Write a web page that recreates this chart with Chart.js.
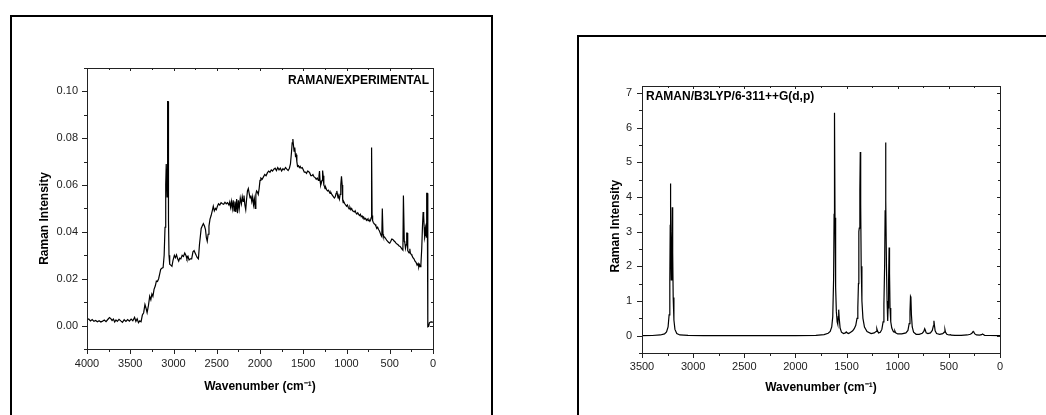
<!DOCTYPE html>
<html>
<head>
<meta charset="utf-8">
<title>Raman spectra</title>
<script src="https://cdn.jsdelivr.net/npm/chart.js@4.4.1/dist/chart.umd.min.js"></script>
<style>
  html, body { margin: 0; padding: 0; background: #fff; }
  body { width: 1046px; height: 415px; position: relative; overflow: hidden; }
  .panel { position: absolute; border: 2px solid #000; border-bottom: none; box-sizing: border-box; }
  #boxLeft { left: 10px; top: 15px; width: 483px; height: 420px; }
  #boxRight { left: 577px; top: 35px; width: 500px; height: 400px; }
  canvas { position: absolute; top: 0; }
  #expChart { left: 0; }
  #calcChart { left: 523px; }
</style>
</head>
<body>
<div class="panel" id="boxLeft"></div>
<div class="panel" id="boxRight"></div>
<canvas id="expChart" width="520" height="415"></canvas>
<canvas id="calcChart" width="523" height="415"></canvas>
<script>
// experimental spectrum (cm-1 / intensity)
const expWavenumber = [
  4000, 3980, 3960, 3940, 3920, 3900, 3880, 3860, 3840, 3820, 3800, 3780, 3760, 3740, 3725, 3710, 3695, 3680, 3665, 3650,
  3630, 3610, 3590, 3570, 3550, 3530, 3510, 3490, 3470, 3450, 3435, 3420, 3405, 3390, 3375, 3360, 3345, 3330, 3318, 3305,
  3290, 3275, 3262, 3250, 3238, 3225, 3210, 3198, 3185, 3172, 3160, 3148, 3135, 3120, 3108, 3098, 3090, 3084, 3078, 3074,
  3070, 3066, 3062, 3058, 3052, 3044, 3032, 3018, 3005, 2990, 2978, 2965, 2952, 2940, 2928, 2915, 2900, 2885, 2870, 2855,
  2845, 2832, 2820, 2805, 2790, 2775, 2762, 2750, 2738, 2725, 2712, 2700, 2690, 2680, 2668, 2655, 2642, 2630, 2620, 2610,
  2600, 2590, 2578, 2565, 2552, 2540, 2528, 2515, 2505, 2492, 2480, 2465, 2450, 2435, 2420, 2405, 2390, 2375, 2360, 2350,
  2340, 2330, 2320, 2310, 2300, 2290, 2280, 2270, 2260, 2250, 2240, 2228, 2215, 2205, 2195, 2185, 2175, 2165, 2155, 2145,
  2135, 2125, 2115, 2105, 2095, 2085, 2075, 2065, 2055, 2048, 2040, 2030, 2020, 2010, 2000, 1990, 1975, 1960, 1945, 1930,
  1915, 1900, 1885, 1870, 1855, 1840, 1825, 1810, 1795, 1780, 1765, 1750, 1735, 1720, 1705, 1690, 1675, 1660, 1648, 1636,
  1628, 1620, 1613, 1606, 1598, 1590, 1582, 1574, 1566, 1555, 1545, 1535, 1525, 1512, 1500, 1488, 1475, 1462, 1450, 1438,
  1425, 1412, 1400, 1388, 1375, 1362, 1350, 1338, 1325, 1318, 1312, 1306, 1298, 1290, 1282, 1276, 1270, 1262, 1255, 1248,
  1240, 1230, 1220, 1210, 1200, 1190, 1180, 1170, 1160, 1150, 1140, 1130, 1120, 1112, 1105, 1098, 1090, 1082, 1074, 1066,
  1058, 1050, 1044, 1038, 1030, 1020, 1010, 1000, 990, 980, 970, 960, 950, 940, 930, 920, 910, 900, 890, 880,
  870, 860, 850, 840, 830, 820, 810, 800, 790, 780, 770, 760, 750, 740, 730, 722, 716, 712, 708, 704,
  698, 690, 680, 670, 660, 650, 640, 630, 620, 610, 600, 592, 586, 582, 578, 572, 560, 548, 536, 524,
  512, 500, 488, 476, 464, 452, 440, 428, 416, 404, 392, 380, 368, 356, 348, 342, 336, 332, 326, 318,
  310, 304, 298, 292, 284, 276, 268, 262, 254, 244, 232, 220, 208, 196, 184, 172, 164, 156, 148, 140,
  130, 122, 114, 108, 102, 96, 90, 84, 80, 76, 70, 66, 62, 58, 50, 42, 30, 18, 8, 0
];
const expIntensity = [
  0.0025, 0.0028, 0.0020, 0.0026, 0.0018, 0.0022, 0.0016, 0.0021, 0.0015, 0.0019, 0.0024, 0.0017, 0.0026, 0.0034, 0.0030, 0.0022, 0.0028, 0.0015, 0.0024, 0.0018,
  0.0027, 0.0020, 0.0014, 0.0025, 0.0018, 0.0026, 0.0019, 0.0028, 0.0021, 0.0035, 0.0018, 0.0029, 0.0012, 0.0020, 0.0016, 0.0045, 0.0055, 0.0090, 0.0075, 0.0055,
  0.0085, 0.0125, 0.0110, 0.0135, 0.0125, 0.0155, 0.0170, 0.0190, 0.0188, 0.0200, 0.0220, 0.0240, 0.0245, 0.0248, 0.0300, 0.0420, 0.0600, 0.0690, 0.0690, 0.0550,
  0.0690, 0.0957, 0.0957, 0.0450, 0.0300, 0.0262, 0.0258, 0.0253, 0.0280, 0.0300, 0.0290, 0.0302, 0.0285, 0.0275, 0.0288, 0.0285, 0.0300, 0.0295, 0.0310, 0.0298,
  0.0285, 0.0295, 0.0280, 0.0285, 0.0285, 0.0315, 0.0320, 0.0310, 0.0300, 0.0290, 0.0285, 0.0345, 0.0380, 0.0415, 0.0425, 0.0435, 0.0425, 0.0410, 0.0375, 0.0360,
  0.0390, 0.0425, 0.0455, 0.0470, 0.0490, 0.0510, 0.0490, 0.0500, 0.0495, 0.0510, 0.0520, 0.0515, 0.0525, 0.0520, 0.0518, 0.0527, 0.0520, 0.0525, 0.0515, 0.0528,
  0.0505, 0.0530, 0.0500, 0.0535, 0.0490, 0.0530, 0.0485, 0.0540, 0.0480, 0.0535, 0.0500, 0.0545, 0.0520, 0.0550, 0.0530, 0.0555, 0.0515, 0.0495, 0.0540, 0.0575,
  0.0585, 0.0565, 0.0545, 0.0555, 0.0530, 0.0550, 0.0515, 0.0540, 0.0500, 0.0560, 0.0575, 0.0570, 0.0560, 0.0585, 0.0620, 0.0630, 0.0625, 0.0635, 0.0645, 0.0640,
  0.0652, 0.0660, 0.0655, 0.0665, 0.0660, 0.0668, 0.0672, 0.0662, 0.0675, 0.0665, 0.0672, 0.0660, 0.0670, 0.0665, 0.0675, 0.0668, 0.0662, 0.0672, 0.0690, 0.0740,
  0.0780, 0.0797, 0.0770, 0.0745, 0.0760, 0.0725, 0.0730, 0.0700, 0.0680, 0.0683, 0.0675, 0.0680, 0.0672, 0.0675, 0.0665, 0.0655, 0.0655, 0.0650, 0.0660, 0.0658,
  0.0652, 0.0640, 0.0640, 0.0645, 0.0635, 0.0632, 0.0625, 0.0630, 0.0620, 0.0640, 0.0660, 0.0620, 0.0600, 0.0610, 0.0620, 0.0662, 0.0640, 0.0600, 0.0595, 0.0585,
  0.0590, 0.0580, 0.0575, 0.0578, 0.0572, 0.0565, 0.0568, 0.0560, 0.0555, 0.0550, 0.0545, 0.0550, 0.0565, 0.0575, 0.0560, 0.0545, 0.0550, 0.0540, 0.0560, 0.0600,
  0.0637, 0.0600, 0.0535, 0.0525, 0.0528, 0.0520, 0.0515, 0.0510, 0.0515, 0.0505, 0.0498, 0.0505, 0.0495, 0.0500, 0.0490, 0.0488, 0.0485, 0.0490, 0.0480, 0.0478,
  0.0482, 0.0475, 0.0470, 0.0475, 0.0465, 0.0468, 0.0460, 0.0462, 0.0455, 0.0458, 0.0450, 0.0455, 0.0448, 0.0452, 0.0445, 0.0450, 0.0460, 0.0760, 0.0760, 0.0470,
  0.0448, 0.0440, 0.0435, 0.0432, 0.0425, 0.0415, 0.0420, 0.0410, 0.0405, 0.0395, 0.0385, 0.0380, 0.0500, 0.0500, 0.0390, 0.0380, 0.0378, 0.0372, 0.0365, 0.0360,
  0.0355, 0.0352, 0.0360, 0.0370, 0.0368, 0.0362, 0.0358, 0.0352, 0.0348, 0.0345, 0.0340, 0.0338, 0.0332, 0.0325, 0.0322, 0.0555, 0.0555, 0.0360, 0.0355, 0.0330,
  0.0345, 0.0395, 0.0395, 0.0320, 0.0315, 0.0310, 0.0328, 0.0310, 0.0305, 0.0300, 0.0290, 0.0285, 0.0275, 0.0270, 0.0258, 0.0265, 0.0250, 0.0260, 0.0252, 0.0260,
  0.0330, 0.0420, 0.0485, 0.0470, 0.0420, 0.0375, 0.0385, 0.0425, 0.0430, 0.0375, 0.0565, 0.0565, 0.0010, -0.0005, -0.0003, 0.0012, 0.0015, 0.0016, 0.0015, 0.0014
];

// B3LYP/6-311++G(d,p) computed spectrum
const calcWavenumber = [
  3500, 3400, 3320, 3280, 3260, 3245, 3235, 3228, 3224, 3222, 3219, 3214, 3208, 3204, 3200, 3195, 3188, 3178, 3160, 3130,
  3050, 2900, 2000, 1800, 1720, 1680, 1660, 1645, 1635, 1627, 1622, 1618, 1613, 1607, 1600, 1592, 1586, 1581, 1577, 1572,
  1563, 1550, 1530, 1512, 1503, 1494, 1480, 1460, 1440, 1425, 1410, 1398, 1390, 1384, 1380, 1376, 1370, 1366, 1362, 1357,
  1350, 1340, 1325, 1300, 1260, 1230, 1212, 1204, 1198, 1188, 1170, 1155, 1143, 1135, 1128, 1123, 1119, 1115, 1110, 1104,
  1098, 1094, 1089, 1084, 1080, 1075, 1068, 1058, 1045, 1036, 1028, 1020, 1000, 960, 920, 900, 888, 880, 875, 871,
  866, 858, 845, 820, 790, 760, 745, 736, 730, 722, 705, 680, 662, 651, 646, 641, 634, 620, 590, 560,
  545, 538, 533, 520, 500, 485, 478, 440, 380, 320, 290, 275, 262, 256, 246, 230, 200, 180, 170, 163,
  150, 100, 0
];
const calcIntensity = [
  0, 0.005, 0.02, 0.05, 0.11, 0.25, 0.6, 1.6, 3.2, 4.39, 3.0, 1.61, 2.8, 3.70, 2.4, 1.1, 0.45, 0.18, 0.06, 0.02,
  0.006, 0.001, 0.001, 0.008, 0.03, 0.07, 0.12, 0.25, 0.55, 1.6, 3.5, 6.43, 3.4, 1.4, 0.7, 0.4, 0.33, 0.55, 0.75, 0.5,
  0.22, 0.1, 0.06, 0.08, 0.11, 0.08, 0.06, 0.1, 0.14, 0.2, 0.3, 0.5, 0.8, 1.5, 3.0, 3.1, 4.2, 5.30, 3.8, 2.0,
  1.0, 0.5, 0.25, 0.12, 0.06, 0.08, 0.12, 0.2, 0.14, 0.08, 0.1, 0.18, 0.4, 0.9, 2.0, 3.6, 5.57, 3.9, 2.0, 1.0,
  0.42, 0.8, 1.6, 2.54, 1.8, 0.8, 0.4, 0.22, 0.13, 0.1, 0.14, 0.08, 0.05, 0.05, 0.08, 0.15, 0.35, 0.7, 1.13, 1.1,
  0.6, 0.25, 0.1, 0.04, 0.04, 0.07, 0.12, 0.2, 0.16, 0.08, 0.06, 0.08, 0.15, 0.28, 0.43, 0.3, 0.14, 0.06, 0.04, 0.06,
  0.1, 0.17, 0.1, 0.04, 0.02, 0.03, 0.015, 0.008, 0.01, 0.02, 0.04, 0.07, 0.12, 0.1, 0.05, 0.02, 0.015, 0.03, 0.05, 0.03,
  0.01, 0.005, 0.002
];

// labelled tick values
const expXTicks = [4000, 3500, 3000, 2500, 2000, 1500, 1000, 500, 0];
const expYTicks = [0, 0.02, 0.04, 0.06, 0.08, 0.10];
const calcXTicks = [3500, 3000, 2500, 2000, 1500, 1000, 500, 0];
const calcYTicks = [0, 1, 2, 3, 4, 5, 6, 7];

Chart.defaults.font.family = '"Liberation Sans", Arial, sans-serif';
Chart.defaults.color = '#222';

// frame round the plot, Origin-style major/minor ticks and the panel caption
const axisFrame = {
  id: 'axisFrame',
  afterDraw(chart, args, opts) {
    const { ctx, chartArea: a, scales } = chart;
    ctx.save();
    ctx.strokeStyle = '#222';
    ctx.lineWidth = 1;
    ctx.strokeRect(a.left + 0.5, a.top + 0.5, a.right - a.left, a.bottom - a.top);

    const drawTicks = (scale, minor, major, horizontal) => {
      const ratio = Math.round(major / minor);
      const first = Math.ceil(scale.min / minor - 1e-6);
      const last = Math.floor(scale.max / minor + 1e-6);
      ctx.beginPath();
      for (let n = first; n <= last; n++) {
        const p = Math.round(scale.getPixelForValue(n * minor)) + 0.5;
        const isMajor = n % ratio === 0;
        const out = isMajor ? 5 : 3;
        const inn = isMajor ? 3 : 2;
        if (horizontal) {
          ctx.moveTo(p, a.bottom); ctx.lineTo(p, a.bottom + out);
          ctx.moveTo(p, a.top); ctx.lineTo(p, a.top + inn);
        } else {
          ctx.moveTo(a.left, p); ctx.lineTo(a.left - out, p);
          ctx.moveTo(a.right, p); ctx.lineTo(a.right - inn, p);
        }
      }
      ctx.stroke();
    };
    drawTicks(scales.x, opts.xMinor, opts.xMajor, true);
    drawTicks(scales.y, opts.yMinor, opts.yMajor, false);

    ctx.font = 'bold 12px "Liberation Sans", Arial, sans-serif';
    ctx.fillStyle = '#000';
    ctx.textBaseline = 'middle';
    ctx.textAlign = opts.align;
    const tx = opts.align === 'right' ? a.right - opts.dx : a.left + opts.dx;
    ctx.fillText(opts.caption, tx, a.top + opts.dy);
    ctx.restore();
  }
};

const useTicks = values => scale => {
  scale.ticks = values.map(v => ({ value: v }));
};

function makeChart(id, wn, inten, cfg) {
  const points = wn.map((w, i) => ({ x: w, y: inten[i] }));
  return new Chart(document.getElementById(id), {
    type: 'line',
    data: {
      datasets: [{
        data: points,
        borderColor: '#000',
        borderWidth: 1.2,
        pointRadius: 0,
        tension: 0,
        fill: false
      }]
    },
    options: {
      responsive: false,
      animation: false,
      layout: { padding: cfg.padding },
      plugins: {
        legend: { display: false },
        tooltip: { enabled: false },
        axisFrame: cfg.frame
      },
      scales: {
        x: {
          type: 'linear',
          reverse: true,
          min: cfg.xMin, max: cfg.xMax,
          grid: { display: false, drawTicks: false },
          border: { display: false },
          ticks: { padding: cfg.xTickPad, font: { size: 11 }, color: '#222', callback: v => String(v) },
          afterBuildTicks: useTicks(cfg.xTicks),
          afterFit: s => { s.height = cfg.xHeight; },
          title: {
            display: true,
            text: 'Wavenumber (cm\u207B\u00B9)',
            font: { size: 12, weight: 'bold' },
            color: '#000',
            padding: { top: 0, bottom: cfg.xTitlePad }
          }
        },
        y: {
          type: 'linear',
          min: cfg.yMin, max: cfg.yMax,
          grid: { display: false, drawTicks: false },
          border: { display: false },
          ticks: { padding: cfg.yTickPad, font: { size: 11 }, color: '#222', callback: cfg.yFormat },
          afterBuildTicks: useTicks(cfg.yTicks),
          afterFit: s => { s.width = cfg.yWidth; },
          title: {
            display: true,
            text: cfg.yTitle,
            font: { size: 12, weight: 'bold' },
            color: '#000',
            padding: { top: cfg.yTitlePad, bottom: 0 }
          }
        }
      }
    },
    plugins: [axisFrame]
  });
}

makeChart('expChart', expWavenumber, expIntensity, {
  padding: { left: 0, top: 68, right: 87, bottom: 0 },
  xMin: 0, xMax: 4000, yMin: -0.01, yMax: 0.11,
  xTicks: expXTicks, yTicks: expYTicks,
  xHeight: 66, yWidth: 87,
  xTickPad: 8, yTickPad: 9, xTitlePad: 21, yTitlePad: 37,
  yTitle: 'Raman Intensity      ',
  yFormat: v => v.toFixed(2),
  frame: { xMajor: 500, xMinor: 250, yMajor: 0.02, yMinor: 0.01,
           caption: 'RAMAN/EXPERIMENTAL', align: 'right', dx: 4, dy: 13 }
});

makeChart('calcChart', calcWavenumber, calcIntensity, {
  padding: { left: 0, top: 86, right: 46, bottom: 0 },
  xMin: 0, xMax: 3500, yMin: -0.5, yMax: 7.2,
  xTicks: calcXTicks, yTicks: calcYTicks,
  xHeight: 62, yWidth: 119,
  xTickPad: 7, yTickPad: 10, xTitlePad: 20, yTitlePad: 85,
  yTitle: 'Raman Intensity    ',
  yFormat: v => String(v),
  frame: { xMajor: 500, xMinor: 250, yMajor: 1, yMinor: 0.5,
           caption: 'RAMAN/B3LYP/6-311++G(d,p)', align: 'left', dx: 4, dy: 11 }
});
</script>
</body>
</html>
